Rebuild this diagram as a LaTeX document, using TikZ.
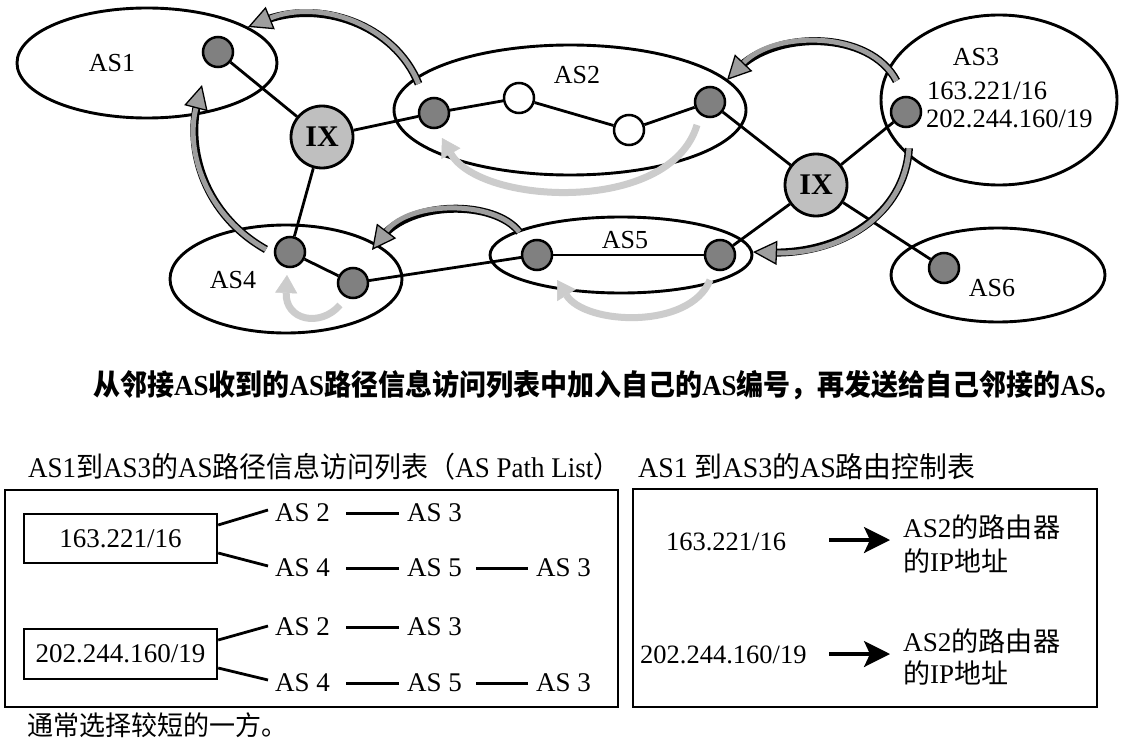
\documentclass[tikz,border=0pt]{standalone}
\usepackage{fontspec}
\usepackage{graphicx}
\setmainfont{Liberation Serif}
\newfontfamily\cjk{Noto Sans CJK SC}
\newcommand\zh[1]{{\cjk #1}}
\usetikzlibrary{shapes.geometric,arrows.meta}
\begin{document}
\begin{tikzpicture}[x=1pt,y=-1pt,
  asell/.style={ellipse,draw,line width=2.9pt,inner sep=0pt},
  router/.style={circle,draw,line width=2.5pt,fill=black!50,minimum size=30pt,inner sep=0pt},
  hop/.style={circle,draw,line width=2.5pt,fill=white,minimum size=30pt,inner sep=0pt},
  ixnode/.style={circle,draw,line width=2.8pt,fill=black!25,minimum size=62pt,inner sep=0pt,font=\fontsize{30}{30}\selectfont\bfseries},
  aslbl/.style={inner sep=0pt,font=\fontsize{26}{26}\selectfont},
  pfx/.style={inner sep=0pt,font=\fontsize{26.5}{26.5}\selectfont},
  link/.style={line width=2.8pt},
  darkarrow/.style={line width=5pt,draw=black!38,shorten <=1.2pt,
    -{Triangle[length=24pt,width=24pt,color=black,fill=black!38,line width=1.3pt]},
    preaction={draw=black,line width=8pt,-,shorten >=15pt}},
  lightarrow/.style={line width=7pt,draw=black!20,
    -{Triangle[length=18pt,width=22pt,line width=0.5pt]}},
  outbox/.style={draw,rectangle,line width=2.6pt,inner sep=0pt},
  inbox/.style={draw,rectangle,line width=2.4pt,inner sep=0pt,minimum width=193pt,font=\fontsize{27}{27}\selectfont},
  ptxt/.style={inner sep=0pt,anchor=west,font=\fontsize{27}{27}\selectfont},
  dashln/.style={line width=3pt,shorten <=16pt,shorten >=8pt},
  rtxt/.style={inner sep=0pt,anchor=west},
  tabarrow/.style={line width=3.2pt,-{Stealth[length=26pt,width=26pt,inset=6pt]}}
]
\fill[white] (0,0) rectangle (1131,746);
\useasboundingbox (0,0) rectangle (1131,746);

% AS ellipses
\node[asell,minimum width=260pt,minimum height=110pt] (AS1) at (147,63) {};
\node[asell,minimum width=352pt,minimum height=130pt] (AS2) at (570,110) {};
\node[asell,minimum width=236pt,minimum height=170pt] (AS3) at (999,100) {};
\node[asell,minimum width=232pt,minimum height=108pt] (AS4) at (286,279) {};
\node[asell,minimum width=262pt,minimum height=76pt] (AS5) at (621,255) {};
\node[asell,minimum width=214pt,minimum height=94pt] (AS6) at (998,275) {};

% labels
\node[aslbl] (l1) at (112,63) {AS1};
\node[aslbl] (l2) at (577,75) {AS2};
\node[aslbl] (l3) at (976,57) {AS3};
\node[aslbl] (l4) at (233,280) {AS4};
\node[aslbl] (l5) at (625,240) {AS5};
\node[aslbl] (l6) at (992,288) {AS6};
\node[pfx,anchor=west] (pf1) at (927,91) {163.221/16};
\node[pfx,anchor=west] (pf2) at (926,119) {202.244.160/19};

% routers
\node[router] (R1) at (218,52) {};
\node[ixnode] (IX1) at (322,137) {IX};
\node[router] (R2a) at (434,113) {};
\node[hop] (O1) at (519,98) {};
\node[hop] (O2) at (629,130) {};
\node[router] (R2b) at (710,102) {};
\node[router] (R3) at (906,112) {};
\node[ixnode] (IX2) at (816,185) {IX};
\node[router] (R4a) at (290,252) {};
\node[router] (R4b) at (353,283) {};
\node[router] (R5a) at (537,255) {};
\node[router] (R5b) at (720,255) {};
\node[router] (R6) at (944,268) {};

% links
\draw[link] (R1) -- (IX1);
\draw[link] (IX1) -- (R2a);
\draw[link] (IX1) -- (R4a);
\draw[link] (R2a) -- (O1);
\draw[link] (O1) -- (O2);
\draw[link] (O2) -- (R2b);
\draw[link] (R2b) -- (IX2);
\draw[link] (IX2) -- (R3);
\draw[link] (IX2) -- (R5b);
\draw[link] (IX2) -- (R6);
\draw[link] (R4a) -- (R4b);
\draw[link] (R4b) -- (R5a);
\draw[link] (R5a) -- (R5b);

% arrow end points
\coordinate (a1s) at (419,85);  \coordinate (a1e) at (248,27);
\coordinate (a2s) at (267,250); \coordinate (a2e) at (202,85);
\coordinate (a3s) at (897,82);  \coordinate (a3e) at (727,80);
\coordinate (a4s) at (520,233); \coordinate (a4e) at (372,250);
\coordinate (a5s) at (909,147); \coordinate (a5e) at (753,252);
\coordinate (g1s) at (697,125); \coordinate (g1e) at (442,138);
\coordinate (g2s) at (710,280); \coordinate (g2e) at (557,280);
\coordinate (g3s) at (340,305); \coordinate (g3e) at (287,275);

% light arrows
\draw[lightarrow] (g1s) .. controls (670,215) and (480,205) .. (g1e);
\draw[lightarrow] (g2s) .. controls (690,330) and (585,325) .. (g2e);
\draw[lightarrow] (g3s) .. controls (320,328) and (285,320) .. (g3e);

% dark arrows
\draw[darkarrow] (a1s) .. controls (395,25) and (320,-2) .. (a1e);
\draw[darkarrow] (a2s) .. controls (205,215) and (185,150) .. (a2e);
\draw[darkarrow] (a3s) .. controls (870,30) and (775,30) .. (a3e);
\draw[darkarrow] (a4s) .. controls (495,200) and (410,200) .. (a4e);
\draw[darkarrow] (a5s) .. controls (905,215) and (840,255) .. (a5e);

% main sentence
\node[anchor=west,inner sep=0pt] (mt) at (93,385) {\resizebox{1029pt}{\height}{\fontsize{29}{29}\selectfont\bfseries \zh{从邻接}AS\zh{收到的}AS\zh{路径信息访问列表中加入自己的}AS\zh{编号，再发送给自己邻接的}AS\zh{。}}};

% titles
\node[anchor=west,inner sep=0pt] (tl) at (28,467) {\resizebox{592pt}{\height}{\fontsize{28.5}{28.5}\selectfont AS1\zh{到}AS3\zh{的}AS\zh{路径信息访问列表（}AS Path List\zh{）}}};
\node[anchor=west,inner sep=0pt] (tr) at (638,467) {\resizebox{337pt}{\height}{\fontsize{28.5}{28.5}\selectfont AS1 \zh{到}AS3\zh{的}AS\zh{路由控制表}}};

% outer boxes
\node[outbox,minimum width=613pt,minimum height=217pt] (lbox) at (311.5,598.5) {};
\node[outbox,minimum width=464pt,minimum height=218pt] (rbox) at (865,598) {};

% left table
\node[inbox,minimum height=49pt] (b1) at (120.5,538.5) {163.221/16};
\node[inbox,minimum height=50pt] (b2) at (120.5,654) {202.244.160/19};

\node[ptxt] (p1a) at (275,513) {AS 2};
\node[ptxt] (p1b) at (407,513) {AS 3};
\node[ptxt] (p2a) at (275,568) {AS 4};
\node[ptxt] (p2b) at (407,568) {AS 5};
\node[ptxt] (p2c) at (536,568) {AS 3};
\node[ptxt] (p3a) at (275,627) {AS 2};
\node[ptxt] (p3b) at (407,627) {AS 3};
\node[ptxt] (p4a) at (275,683) {AS 4};
\node[ptxt] (p4b) at (407,683) {AS 5};
\node[ptxt] (p4c) at (536,683) {AS 3};

\draw[dashln] (p1a.east) -- (p1b.west);
\draw[dashln] (p2a.east) -- (p2b.west);
\draw[dashln,shorten <=14pt] (p2b.east) -- (p2c.west);
\draw[dashln] (p3a.east) -- (p3b.west);
\draw[dashln] (p4a.east) -- (p4b.west);
\draw[dashln,shorten <=14pt] (p4b.east) -- (p4c.west);

\draw[link] ([yshift=13.5pt]b1.east) -- ([xshift=-7pt,yshift=3pt]p1a.west);
\draw[link] ([yshift=-14.5pt]b1.east) -- ([xshift=-7pt,yshift=2pt]p2a.west);
\draw[link] ([yshift=14pt]b2.east) -- ([xshift=-7pt,yshift=1pt]p3a.west);
\draw[link] ([yshift=-14pt]b2.east) -- ([xshift=-7pt,yshift=3pt]p4a.west);

% right table
\node[pfx] (rp1) at (726,542) {163.221/16};
\node[pfx,anchor=west] (rp2) at (640,655) {202.244.160/19};
\coordinate (t1s) at (829,540); \coordinate (t1e) at (890,540);
\coordinate (t2s) at (829,654); \coordinate (t2e) at (890,654);
\draw[tabarrow] (t1s) -- (t1e);
\draw[tabarrow] (t2s) -- (t2e);
\node[rtxt] (rt1a) at (903,527) {\resizebox{157pt}{\height}{\fontsize{27}{27}\selectfont AS2\zh{的路由器}}};
\node[rtxt] (rt1b) at (903,561) {\resizebox{105pt}{\height}{\fontsize{27}{27}\selectfont\zh{的}IP\zh{地址}}};
\node[rtxt] (rt2a) at (903,641) {\resizebox{157pt}{\height}{\fontsize{27}{27}\selectfont AS2\zh{的路由器}}};
\node[rtxt] (rt2b) at (903,673) {\resizebox{105pt}{\height}{\fontsize{27}{27}\selectfont\zh{的}IP\zh{地址}}};

% note
\node[anchor=west,inner sep=0pt] (nt) at (27,725) {\resizebox{260pt}{\height}{\fontsize{27}{27}\selectfont\zh{通常选择较短的一方。}}};
\end{tikzpicture}
\end{document}
